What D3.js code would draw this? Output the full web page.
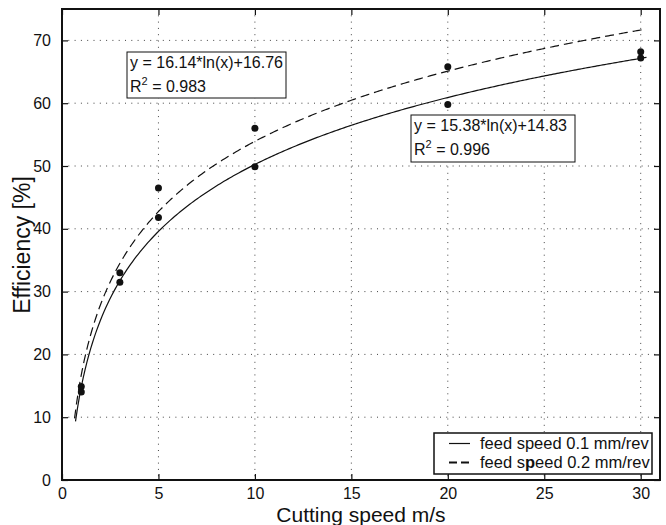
<!DOCTYPE html>
<html lang="en">
<head>
    <meta charset="utf-8">
    <title>Efficiency vs cutting speed</title>
    <script src="https://d3js.org/d3.v7.min.js"></script>
    <style>
        body { margin: 0; background: white; }
        svg text { font-family: "Liberation Sans", Arial, Helvetica, sans-serif; fill: #111; }
        .grid line { stroke: #444; stroke-width: 1; stroke-dasharray: 1,5.3; }
    </style>
</head>
<body>
    <svg id="chart" width="666" height="525"></svg>
    <script>
        // measured points
        var speeds = [1, 3, 5, 10, 20, 30];
        var eff01 = [14.0, 31.5, 41.8, 49.9, 59.8, 67.2];   // feed 0.1 mm/rev
        var eff02 = [14.9, 33.0, 46.5, 56.0, 65.8, 68.2];   // feed 0.2 mm/rev

        // log trendlines as printed on the chart: y = a*ln(x)+b
        var fit01 = [15.38, 14.83], r2_01 = "0.996", span01 = [0.7, 30.3];
        var fit02 = [16.14, 16.76], r2_02 = "0.983", span02 = [0.65, 30.2];

        var xTicks = [0, 5, 10, 15, 20, 25, 30];
        var yTicks = [0, 10, 20, 30, 40, 50, 60, 70];
        var legendLabels = ["feed speed 0.1 mm/rev", "feed speed 0.2 mm/rev"];

        var svg = d3.select("#chart");
        var pL = 62, pR = 660, pT = 9, pB = 480;

        var x = d3.scaleLinear().domain([0, 31]).range([pL, pR]);
        var y = d3.scaleLinear().domain([0, 75]).range([pB, pT]);

        // dotted grid
        var grid = svg.append("g").attr("class", "grid");
        grid.selectAll(".gx").data(xTicks.filter(d => d > 0)).enter().append("line")
            .attr("x1", d => x(d)).attr("x2", d => x(d))
            .attr("y1", pT).attr("y2", pB);
        grid.selectAll(".gy").data(yTicks.filter(d => d > 0)).enter().append("line")
            .attr("x1", pL).attr("x2", pR)
            .attr("y1", d => y(d)).attr("y2", d => y(d));

        // fitted curves
        function curvePts(fit, span) {
            var n = 300, pts = [];
            for (var i = 0; i <= n; i++) {
                var xv = span[0] + (span[1] - span[0]) * i / n;
                pts.push([xv, fit[0] * Math.log(xv) + fit[1]]);
            }
            return pts;
        }
        var line = d3.line().x(d => x(d[0])).y(d => y(d[1]));

        svg.append("path").datum(curvePts(fit01, span01))
            .attr("d", line).attr("fill", "none")
            .attr("stroke", "#111").attr("stroke-width", 1.2);
        svg.append("path").datum(curvePts(fit02, span02))
            .attr("d", line).attr("fill", "none")
            .attr("stroke", "#111").attr("stroke-width", 1.2)
            .attr("stroke-dasharray", "9,5");

        // markers
        var pts = speeds.map((s, i) => [s, eff01[i]]).concat(speeds.map((s, i) => [s, eff02[i]]));
        svg.selectAll(".pt").data(pts).enter().append("circle")
            .attr("cx", d => x(d[0])).attr("cy", d => y(d[1]))
            .attr("r", 3.5).attr("fill", "#111");

        // axes (ticks inward, mirrored on top/right)
        var fs = 16;
        svg.append("g").attr("transform", "translate(0," + pB + ")")
            .call(d3.axisBottom(x).tickValues(xTicks).tickSize(-6).tickPadding(8).tickFormat(d3.format("d")));
        svg.append("g").attr("transform", "translate(" + pL + ",0)")
            .call(d3.axisLeft(y).tickValues(yTicks).tickSize(-6).tickPadding(11).tickFormat(d3.format("d")));
        svg.append("g").attr("transform", "translate(0," + pT + ")")
            .call(d3.axisTop(x).tickValues(xTicks).tickSize(-6).tickFormat(""));
        svg.append("g").attr("transform", "translate(" + pR + ",0)")
            .call(d3.axisRight(y).tickValues(yTicks).tickSize(-6).tickFormat(""));
        svg.selectAll(".domain").remove();
        svg.selectAll(".tick line").attr("stroke", "#111").attr("stroke-width", 1.2);
        svg.selectAll(".tick text").attr("font-size", fs).attr("fill", "#111");

        svg.append("rect").attr("x", pL).attr("y", pT)
            .attr("width", pR - pL).attr("height", pB - pT)
            .attr("fill", "none").attr("stroke", "#111").attr("stroke-width", 2);

        // axis titles
        svg.append("text").attr("x", (pL + pR) / 2).attr("y", 521.5)
            .attr("text-anchor", "middle").attr("font-size", 21)
            .text("Cutting speed m/s");
        svg.append("text").attr("transform", "translate(30,245) rotate(-90)")
            .attr("text-anchor", "middle").attr("font-size", 23)
            .text("Efficiency [%]");

        // equation boxes
        function eqBox(bx, by, bw, bh, fit, r2) {
            var g = svg.append("g");
            g.append("rect").attr("x", bx).attr("y", by).attr("width", bw).attr("height", bh)
                .attr("fill", "white").attr("stroke", "#111").attr("stroke-width", 1);
            g.append("text").attr("x", bx + 3).attr("y", by + 16).attr("font-size", fs)
                .text("y = " + fit[0].toFixed(2) + "*ln(x)+" + fit[1].toFixed(2));
            var t = g.append("text").attr("x", bx + 3).attr("y", by + 40).attr("font-size", fs);
            t.append("tspan").text("R");
            t.append("tspan").attr("dy", -7).attr("font-size", 11).text("2");
            t.append("tspan").attr("dy", 7).text(" = " + r2);
        }
        eqBox(127, 52, 159, 46, fit02, r2_02);
        eqBox(411, 115, 164, 47, fit01, r2_01);

        // legend
        var lg = svg.append("g");
        lg.append("rect").attr("x", 434).attr("y", 433).attr("width", 218).attr("height", 41)
            .attr("fill", "white").attr("stroke", "#111").attr("stroke-width", 1.5);
        legendLabels.forEach(function (lab, i) {
            var ly = 443.5 + i * 19;
            lg.append("line").attr("x1", 449).attr("x2", 470).attr("y1", ly).attr("y2", ly)
                .attr("stroke", "#111").attr("stroke-width", i ? 1.8 : 1.2)
                .attr("stroke-dasharray", i ? "8,4" : null);
            var t = lg.append("text").attr("x", 480).attr("y", ly + 5.5).attr("font-size", 16.5);
            if (i === 1) {
                t.append("tspan").text("feed s");
                t.append("tspan").attr("font-weight", "bold").text("p");
                t.append("tspan").text("eed 0.2 mm/rev");
            } else {
                t.text(lab);
            }
        });
    </script>
</body>
</html>
